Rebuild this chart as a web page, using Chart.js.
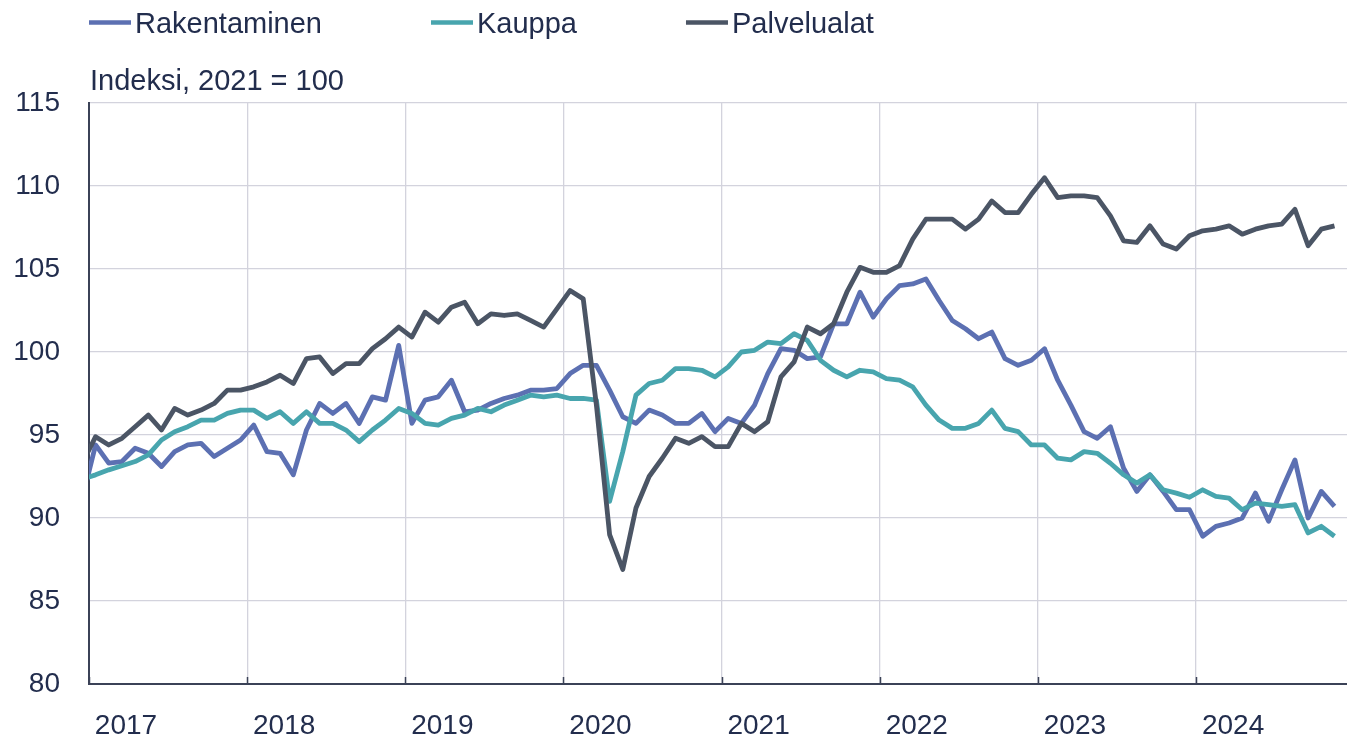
<!DOCTYPE html>
<html>
<head>
<meta charset="utf-8">
<script src="https://cdn.jsdelivr.net/npm/chart.js@4.4.1/dist/chart.umd.min.js"></script>
<style>
  html, body { margin: 0; padding: 0; background: #fff; }
  .wrap { position: relative; width: 1347px; height: 739px; }
</style>
</head>
<body>
<div class="wrap"><canvas id="chart"></canvas></div>
<script>
// Monthly index, 2021 = 100. First value is Dec 2016 (line is clipped at the axis), last is Nov 2024.
const firstMonth = { year: 2016, month: 12 };
const yearLabels = ['2017', '2018', '2019', '2020', '2021', '2022', '2023', '2024'];
const unitLabel = 'Indeksi, 2021 = 100';

const rakentaminen = [
  91.2,
  94.4, 93.3, 93.4, 94.2, 93.9, 93.1, 94.0, 94.4, 94.5, 93.7, 94.2, 94.7,
  95.6, 94.0, 93.9, 92.6, 95.3, 96.9, 96.3, 96.9, 95.7, 97.3, 97.1, 100.4,
  95.7, 97.1, 97.3, 98.3, 96.4, 96.5, 96.9, 97.2, 97.4, 97.7, 97.7, 97.8,
  98.7, 99.2, 99.2, 97.7, 96.1, 95.7, 96.5, 96.2, 95.7, 95.7, 96.3, 95.2,
  96.0, 95.7, 96.8, 98.7, 100.2, 100.1, 99.6, 99.7, 101.7, 101.7, 103.6, 102.1,
  103.2, 104.0, 104.1, 104.4, 103.1, 101.9, 101.4, 100.8, 101.2, 99.6, 99.2, 99.5,
  100.2, 98.3, 96.8, 95.2, 94.8, 95.5, 93.0, 91.6, 92.6, 91.6, 90.5, 90.5,
  88.9, 89.5, 89.7, 90.0, 91.5, 89.8, 91.7, 93.5, 90.0, 91.6, 90.7
];

const kauppa = [
  92.35,
  92.6, 92.9, 93.15, 93.4, 93.8, 94.7, 95.2, 95.5, 95.9, 95.9, 96.3, 96.5,
  96.5, 96.0, 96.4, 95.7, 96.4, 95.7, 95.7, 95.3, 94.6, 95.3, 95.9, 96.6,
  96.3, 95.7, 95.6, 96.0, 96.2, 96.6, 96.4, 96.8, 97.1, 97.4, 97.3, 97.4,
  97.2, 97.2, 97.1, 91.0, 94.0, 97.4, 98.1, 98.3, 99.0, 99.0, 98.9, 98.5,
  99.1, 100.0, 100.1, 100.6, 100.5, 101.1, 100.7, 99.5, 98.9, 98.5, 98.9, 98.8,
  98.4, 98.3, 97.9, 96.8, 95.9, 95.4, 95.4, 95.7, 96.5, 95.4, 95.2, 94.4,
  94.4, 93.6, 93.5, 94.0, 93.9, 93.3, 92.6, 92.1, 92.6, 91.7, 91.5, 91.25,
  91.7, 91.3, 91.2, 90.5, 90.9, 90.8, 90.7, 90.8, 89.1, 89.5, 88.9
];

const palvelualat = [
  93.3,
  94.9, 94.4, 94.8, 95.5, 96.2, 95.3, 96.6, 96.2, 96.5, 96.9, 97.7, 97.7,
  97.9, 98.2, 98.6, 98.1, 99.6, 99.7, 98.7, 99.3, 99.3, 100.2, 100.8, 101.5,
  100.9, 102.4, 101.8, 102.7, 103.0, 101.7, 102.3, 102.2, 102.3, 101.9, 101.5, 102.6,
  103.7, 103.2, 96.8, 89.0, 86.9, 90.6, 92.5, 93.6, 94.8, 94.5, 94.9, 94.3,
  94.3, 95.7, 95.2, 95.8, 98.5, 99.4, 101.5, 101.1, 101.7, 103.6, 105.1, 104.8,
  104.8, 105.2, 106.8, 108.0, 108.0, 108.0, 107.4, 108.0, 109.1, 108.4, 108.4, 109.5,
  110.5, 109.3, 109.4, 109.4, 109.3, 108.2, 106.7, 106.6, 107.6, 106.5, 106.2, 107.0,
  107.3, 107.4, 107.6, 107.1, 107.4, 107.6, 107.7, 108.6, 106.4, 107.4, 107.6
];

// month labels, e.g. '2017-01'
const months = [];
for (let i = 0; i < rakentaminen.length; i++) {
  const m = firstMonth.month - 1 + i;
  const y = firstMonth.year + Math.floor(m / 12);
  months.push(y + '-' + String(m % 12 + 1).padStart(2, '0'));
}

// x in months from 1 Jan 2017, points sit mid-month
function monthX(label) {
  const [y, m] = label.split('-').map(Number);
  return (y - 2017) * 12 + (m - 1) + 0.5;
}
function toPoints(values) {
  return values.map((v, i) => ({ x: monthX(months[i]), y: v }));
}

const textColor = '#222d4d';
const fontFamily = '"Liberation Sans", Arial, sans-serif';
const gridColor = '#d3d3dd';
const axisColor = '#3b4257';

const legendPlugin = {
  id: 'customLegend',
  afterDraw(chart) {
    const ctx = chart.ctx;
    const area = chart.chartArea;
    ctx.save();
    // small inside tick marks on the x axis
    const xs = chart.scales.x;
    ctx.strokeStyle = axisColor;
    ctx.lineWidth = 1.5;
    xs.ticks.forEach(t => {
      const px = Math.round(xs.getPixelForValue(t.value)) + 0.5;
      ctx.beginPath();
      ctx.moveTo(px, area.bottom);
      ctx.lineTo(px, area.bottom - 7);
      ctx.stroke();
    });
    // legend
    ctx.font = '29px ' + fontFamily;
    ctx.fillStyle = textColor;
    ctx.textBaseline = 'alphabetic';
    let x = area.left;
    [...chart.data.datasets].sort((a, b) => a.legendIndex - b.legendIndex).forEach(ds => {
      ctx.strokeStyle = ds.borderColor;
      ctx.lineWidth = 4.5;
      ctx.beginPath();
      ctx.moveTo(x, 22.5);
      ctx.lineTo(x + 42, 22.5);
      ctx.stroke();
      ctx.fillText(ds.label, x + 46, 33);
      x += 46 + ctx.measureText(ds.label).width + 109;
    });
    ctx.fillText(unitLabel, area.left + 1, 90);
    ctx.restore();
  }
};

new Chart(document.getElementById('chart'), {
  type: 'line',
  data: {
    datasets: [
      { label: 'Rakentaminen', legendIndex: 0, order: 3, data: toPoints(rakentaminen), borderColor: '#5c70b2' },
      { label: 'Kauppa', legendIndex: 1, order: 2, data: toPoints(kauppa), borderColor: '#48a5ae' },
      { label: 'Palvelualat', legendIndex: 2, order: 1, data: toPoints(palvelualat), borderColor: '#4b5565' }
    ]
  },
  options: {
    responsive: true,
    maintainAspectRatio: false,
    animation: false,
    layout: { padding: { top: 103, right: 0, bottom: 0, left: 0 } },
    elements: {
      point: { radius: 0 },
      line: { borderWidth: 4.8, tension: 0, borderJoinStyle: 'round', borderCapStyle: 'butt' }
    },
    plugins: {
      legend: { display: false },
      tooltip: { enabled: false }
    },
    scales: {
      x: {
        type: 'linear',
        min: 0,
        max: 95.45,
        afterBuildTicks: s => { s.ticks = yearLabels.map((_, i) => ({ value: i * 12 })); },
        afterFit: s => { s.height = 55; },
        grid: { color: gridColor, lineWidth: 1.3, drawTicks: false },
        border: { color: axisColor, width: 2 },
        ticks: {
          callback: v => yearLabels[v / 12],
          labelOffset: 37,
          padding: 25,
          maxRotation: 0,
          autoSkip: false,
          color: textColor,
          font: { family: fontFamily, size: 28 }
        }
      },
      y: {
        min: 80,
        max: 115,
        afterFit: s => { s.width = 89; },
        grid: { color: gridColor, lineWidth: 1.3, drawTicks: false },
        border: { color: axisColor, width: 2 },
        ticks: {
          stepSize: 5,
          padding: 29,
          color: textColor,
          font: { family: fontFamily, size: 28 }
        }
      }
    }
  },
  plugins: [legendPlugin]
});
</script>
</body>
</html>
